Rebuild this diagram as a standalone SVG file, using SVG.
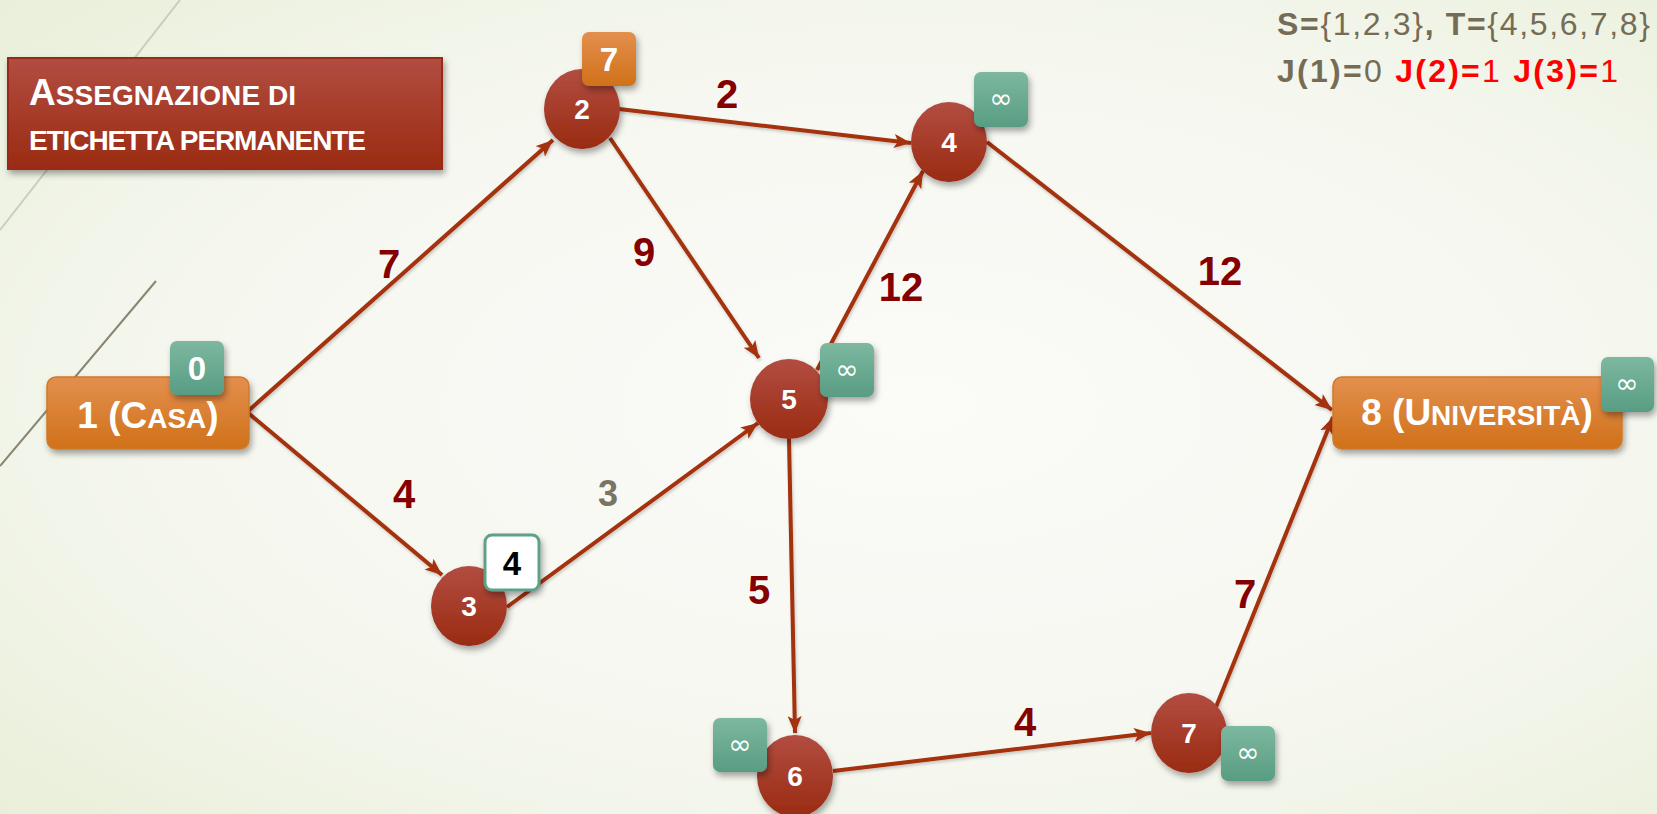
<svg xmlns="http://www.w3.org/2000/svg" width="1657" height="814" viewBox="0 0 1657 814">
<defs>
<radialGradient id="bg" cx="0.55" cy="0.5" r="0.75">
<stop offset="0" stop-color="#FBFBF8"/>
<stop offset="0.6" stop-color="#F5F7EF"/>
<stop offset="1" stop-color="#E9EFD9"/>
</radialGradient>
<linearGradient id="red" x1="0" y1="0" x2="0" y2="1">
<stop offset="0" stop-color="#B24D41"/>
<stop offset="1" stop-color="#9A2B12"/>
</linearGradient>
<linearGradient id="orange" x1="0" y1="0" x2="0" y2="1">
<stop offset="0" stop-color="#E38F4E"/>
<stop offset="1" stop-color="#D07119"/>
</linearGradient>
<linearGradient id="green" x1="0" y1="0" x2="0" y2="1">
<stop offset="0" stop-color="#7DB8A0"/>
<stop offset="1" stop-color="#589D83"/>
</linearGradient>
<filter id="sh" x="-30%" y="-30%" width="160%" height="160%">
<feDropShadow dx="2" dy="4" stdDeviation="3" flood-color="#000" flood-opacity="0.35"/>
</filter>
<filter id="lsh" x="-10%" y="-10%" width="120%" height="120%">
<feDropShadow dx="1" dy="2" stdDeviation="1.5" flood-color="#000" flood-opacity="0.2"/>
</filter>
<marker id="arr" markerUnits="userSpaceOnUse" markerWidth="18" markerHeight="16" refX="17" refY="7" orient="auto">
<path d="M0,0 L17,7 L0,14 L4,7 z" fill="#A3300F"/>
</marker>
<style>
.edge{stroke:#A3300F;stroke-width:4;fill:none;marker-end:url(#arr)}
.node{fill:url(#red)}
.nt{font-family:"Liberation Sans",Arial,sans-serif;font-weight:bold;font-size:28px;fill:#fff;text-anchor:middle}
.gbox{fill:url(#green)}
.obox{fill:url(#orange)}
.bt{font-family:"Liberation Sans",Arial,sans-serif;font-weight:bold;font-size:33px;fill:#fff;text-anchor:middle}
.inf{font-family:"DejaVu Sans",sans-serif;font-size:28px;fill:#fff;text-anchor:middle}
.el{font-family:"Liberation Sans",Arial,sans-serif;font-weight:bold;font-size:40px;fill:#850000;text-anchor:middle}
.big{font-family:"Liberation Sans",Arial,sans-serif;font-weight:bold;fill:#fff}
.hd{font-family:"Liberation Sans",Arial,sans-serif;font-size:32px;fill:#756C55}
.b{font-weight:bold}
.l{font-weight:normal}
.r{fill:#FF0000}
</style>
</defs>
<rect width="1657" height="814" fill="url(#bg)"/>
<path d="M180,0 L0,230" stroke="#C9CDBA" stroke-width="2" fill="none"/>
<path d="M156,281 L0,466" stroke="#8A8570" stroke-width="2" fill="none"/>

<g id="title">
<rect x="8" y="58" width="434" height="111" fill="url(#red)" stroke="#9A2B12" stroke-width="2" filter="url(#sh)"/>
<text class="big" x="29" y="105" textLength="267"><tspan font-size="37">A</tspan><tspan font-size="28">SSEGNAZIONE DI</tspan></text>
<text class="big" x="29" y="150" font-size="28" textLength="337">ETICHETTA PERMANENTE</text>
</g>

<g id="sets">
<text class="hd" x="1277" y="35" textLength="373"><tspan class="b">S=</tspan><tspan class="l">{1,2,3}</tspan><tspan class="b">, T=</tspan><tspan class="l">{4,5,6,7,8}</tspan></text>
<text class="hd" x="1277" y="82" textLength="341"><tspan class="b">J(1)=</tspan><tspan class="l">0 </tspan><tspan class="b r">J(2)=</tspan><tspan class="l r">1 </tspan><tspan class="b r">J(3)=</tspan><tspan class="l r">1</tspan></text>
</g>

<g id="edges" filter="url(#lsh)">
<line class="edge" x1="247" y1="412" x2="553" y2="140"/>
<line class="edge" x1="247" y1="412" x2="442" y2="575"/>
<line class="edge" x1="507" y1="607" x2="758" y2="423"/>
<line class="edge" x1="610" y1="138" x2="759" y2="358"/>
<line class="edge" x1="817" y1="370" x2="923" y2="171"/>
<line class="edge" x1="619" y1="109" x2="911" y2="143"/>
<line class="edge" x1="987" y1="142" x2="1332" y2="410"/>
<line class="edge" x1="1216" y1="707" x2="1333" y2="417"/>
<line class="edge" x1="789" y1="439" x2="795" y2="733"/>
<line class="edge" x1="833" y1="771" x2="1151" y2="733"/>
</g>

<g id="edge-labels">
<text class="el" x="389" y="278">7</text>
<text class="el" x="404" y="508">4</text>
<text class="el" x="608" y="506" style="fill:#7A7460;font-size:36px">3</text>
<text class="el" x="644" y="266">9</text>
<text class="el" x="727" y="108">2</text>
<text class="el" x="901" y="301">12</text>
<text class="el" x="1220" y="285">12</text>
<text class="el" x="759" y="604">5</text>
<text class="el" x="1025" y="736">4</text>
<text class="el" x="1245" y="608">7</text>
</g>

<g id="n1">
<rect x="47" y="377" width="202" height="72" rx="9" class="obox" stroke="#D07A2A" stroke-width="1.5" filter="url(#sh)"/>
<text class="big" x="148" y="428" text-anchor="middle"><tspan font-size="37">1 (C</tspan><tspan font-size="28">ASA</tspan><tspan font-size="37">)</tspan></text>
<rect x="170" y="341" width="54" height="54" rx="7" class="gbox" filter="url(#sh)"/>
<text class="bt" x="197" y="380">0</text>
</g>

<g id="n2">
<ellipse cx="582" cy="109" rx="38" ry="40" class="node" filter="url(#sh)"/>
<text class="nt" x="582" y="119">2</text>
<rect x="582" y="32" width="54" height="54" rx="7" class="obox" filter="url(#sh)"/>
<text class="bt" x="609" y="71">7</text>
</g>

<g id="n3">
<ellipse cx="469" cy="606" rx="38" ry="40" class="node" filter="url(#sh)"/>
<text class="nt" x="469" y="616">3</text>
<rect x="485" y="535" width="54" height="55" rx="7" fill="#fff" stroke="#5FA088" stroke-width="3" filter="url(#sh)"/>
<text class="bt" x="512" y="575" style="fill:#000">4</text>
</g>

<g id="n4">
<ellipse cx="949" cy="142" rx="38" ry="40" class="node" filter="url(#sh)"/>
<text class="nt" x="949" y="152">4</text>
<rect x="974" y="72" width="54" height="55" rx="7" class="gbox" filter="url(#sh)"/>
<text class="inf" x="1001" y="108">∞</text>
</g>

<g id="n5">
<ellipse cx="789" cy="399" rx="39" ry="40" class="node" filter="url(#sh)"/>
<text class="nt" x="789" y="409">5</text>
<rect x="820" y="343" width="54" height="54" rx="7" class="gbox" filter="url(#sh)"/>
<text class="inf" x="847" y="379">∞</text>
</g>

<g id="n6">
<ellipse cx="795" cy="776" rx="38" ry="41" class="node" filter="url(#sh)"/>
<text class="nt" x="795" y="786">6</text>
<rect x="713" y="718" width="54" height="54" rx="7" class="gbox" filter="url(#sh)"/>
<text class="inf" x="740" y="754">∞</text>
</g>

<g id="n7">
<ellipse cx="1189" cy="733" rx="38" ry="40" class="node" filter="url(#sh)"/>
<text class="nt" x="1189" y="743">7</text>
<rect x="1221" y="726" width="54" height="55" rx="7" class="gbox" filter="url(#sh)"/>
<text class="inf" x="1248" y="762">∞</text>
</g>

<g id="n8">
<rect x="1333" y="377" width="289" height="72" rx="9" class="obox" stroke="#D07A2A" stroke-width="1.5" filter="url(#sh)"/>
<text class="big" x="1477" y="425" text-anchor="middle"><tspan font-size="37">8 (U</tspan><tspan font-size="28">NIVERSITÀ</tspan><tspan font-size="37">)</tspan></text>
<rect x="1601" y="357" width="53" height="55" rx="7" class="gbox" filter="url(#sh)"/>
<text class="inf" x="1627" y="393">∞</text>
</g>
</svg>
